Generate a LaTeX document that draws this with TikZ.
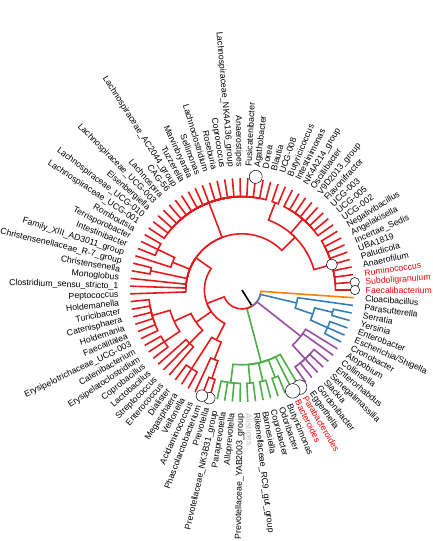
\documentclass[tikz,border=0pt]{standalone}
\usepackage{fontspec}
\setmainfont{Liberation Sans}
\definecolor{cred}{HTML}{E41A1C}
\definecolor{cblue}{HTML}{377EB8}
\definecolor{cgreen}{HTML}{4DAF4A}
\definecolor{cpurple}{HTML}{984EA3}
\definecolor{corange}{HTML}{FF7F00}
\definecolor{lred}{HTML}{FF0000}
\definecolor{lgray}{HTML}{BEBEBE}
\def\angsp{3.956044}
\def\tipr{112}
\newcommand\edg[5]{\draw[#1] ({-(#2)*\angsp}:#3pt) arc[start angle={-(#2)*\angsp}, end angle={-(#4)*\angsp}, radius=#3pt] -- ({-(#4)*\angsp}:#5pt);}
\newcommand\famtips[5]{\foreach \k in {#4,...,#5}{\edg{#1}{#2}{#3}{\k}{\tipr}}}
\newcommand\labr[3]{\node[lbl,#1,anchor=west,rotate={-(#2)*\angsp}] (t#2) at ({-(#2)*\angsp}:123.5pt) {#3};}
\newcommand\labl[3]{\node[lbl,#1,anchor=east,rotate={180-(#2)*\angsp}] (t#2) at ({-(#2)*\angsp}:123.5pt) {#3};}
\newcommand\circat[4]{\node[circ,minimum size=#4pt] (#1) at ({-(#2)*\angsp}:#3pt) {};}
\tikzset{
  br/.style={line width=1.6pt},
  lbl/.style={font=\fontsize{8.7pt}{10pt}\selectfont, inner sep=0pt, text height=6.3pt, text depth=0pt},
  circ/.style={circle, draw=black, fill=white, line width=0.5pt, inner sep=0pt},
}
\begin{document}
\begin{tikzpicture}
\useasboundingbox (-242pt,-251pt) rectangle (191pt,290pt);
\begin{scope}[br]
% root edge
\coordinate (ctr) at (0,0);
\coordinate (root) at ({-14.6456*\angsp}:19pt);
\draw[black] (ctr) -- (root);
% phyla from root
\edg{corange}{14.6456}{19}{1}{112}
\edg{cblue}{14.6456}{19}{3.375}{56.2}
\edg{cpurple}{14.6456}{19}{9.6667}{74.8}
\edg{cgreen}{14.6456}{19}{19}{74.8}
\edg{cred}{14.6456}{19}{40.1865}{37.6}
% blue
\edg{cblue}{3.375}{56.2}{2}{112}
\edg{cblue}{3.375}{56.2}{4.75}{74.8}
\edg{cblue}{4.75}{74.8}{3.5}{93.4}
\edg{cblue}{4.75}{74.8}{6}{93.4}
\famtips{cblue}{3.5}{93.4}{3}{4}
\famtips{cblue}{6}{93.4}{5}{7}
% purple
\edg{cpurple}{9.6667}{74.8}{8}{112}
\edg{cpurple}{9.6667}{74.8}{9}{112}
\edg{cpurple}{9.6667}{74.8}{12}{93.4}
\famtips{cpurple}{12}{93.4}{10}{14}
% green
\edg{cgreen}{19}{74.8}{24.5}{93.4}
\famtips{cgreen}{24.5}{93.4}{23}{26}
\edg{cgreen}{19}{74.8}{21.5}{93.4}
\famtips{cgreen}{21.5}{93.4}{21}{22}
\edg{cgreen}{19}{74.8}{19.5}{93.4}
\famtips{cgreen}{19.5}{93.4}{19}{20}
\edg{cgreen}{19}{74.8}{17.5}{93.4}
\famtips{cgreen}{17.5}{93.4}{17}{18}
\edg{cgreen}{19}{74.8}{16}{112}
\edg{cgreen}{19}{74.8}{15}{112}
% red: Negativicutes
\edg{cred}{40.1865}{37.6}{29.625}{56.2}
\edg{cred}{29.625}{56.2}{28.25}{74.8}
\edg{cred}{28.25}{74.8}{27.5}{93.4}
\famtips{cred}{27.5}{93.4}{27}{28}
\edg{cred}{28.25}{74.8}{29}{112}
\edg{cred}{29.625}{56.2}{31}{93.4}
\famtips{cred}{31}{93.4}{30}{32}
% Bacilli
\edg{cred}{40.1865}{37.6}{36.625}{56.2}
\edg{cred}{36.625}{56.2}{34}{74.8}
\famtips{cred}{34}{74.8}{33}{35}
\edg{cred}{36.625}{56.2}{39.25}{74.8}
\edg{cred}{39.25}{74.8}{37}{93.4}
\famtips{cred}{37}{93.4}{36}{38}
\edg{cred}{39.25}{74.8}{41.5}{93.4}
\famtips{cred}{41.5}{93.4}{39}{44}
% Clostridia
\edg{cred}{40.1865}{37.6}{54.3095}{56.2}
\famtips{cred}{54.3095}{56.2}{45}{47}
\edg{cred}{54.3095}{56.2}{48.5}{93.4}
\famtips{cred}{48.5}{93.4}{48}{49}
\edg{cred}{54.3095}{56.2}{51}{74.8}
\edg{cred}{51}{74.8}{50}{112}
\edg{cred}{51}{74.8}{52}{93.4}
\famtips{cred}{52}{93.4}{51}{53}
\edg{cred}{54.3095}{56.2}{63}{93.4}
\famtips{cred}{63}{93.4}{54}{72}
\edg{cred}{54.3095}{56.2}{79.6667}{74.8}
\edg{cred}{79.6667}{74.8}{73.5}{93.4}
\famtips{cred}{73.5}{93.4}{73}{74}
\edg{cred}{79.6667}{74.8}{78.5}{93.4}
\famtips{cred}{78.5}{93.4}{75}{82}
\edg{cred}{79.6667}{74.8}{87}{93.4}
\famtips{cred}{87}{93.4}{83}{91}
\end{scope}
% circles
\circat{c15}{15}{113}{14.6}
\circat{c16}{16}{113}{14.6}
\circat{c27}{27}{113}{11.6}
\circat{c28}{28}{113}{11.6}
\circat{c70}{70}{114}{13}
\circat{c87}{87}{93.4}{11}
\circat{c90}{90}{113}{9.4}
\circat{c91}{91}{113}{9.4}
% labels
\labr{black}{1}{Cloacibacillus}
\labr{black}{2}{Parasutterella}
\labr{black}{3}{Serratia}
\labr{black}{4}{Yersinia}
\labr{black}{5}{Enterobacter}
\labr{black}{6}{Escherichia/Shigella}
\labr{black}{7}{Cronobacter}
\labr{black}{8}{Atopobium}
\labr{black}{9}{Collinsella}
\labr{black}{10}{Enterorhabdus}
\labr{black}{11}{Senegalimassilia}
\labr{black}{12}{Slackia}
\labr{black}{13}{Gordonibacter}
\labr{black}{14}{Eggerthella}
\labr{lred}{15}{Parabacteroides}
\labr{lred}{16}{Bacteroides}
\labr{black}{17}{Butyricimonas}
\labr{black}{18}{Odoribacter}
\labr{black}{19}{Coprobacter}
\labr{black}{20}{Barnesiella}
\labr{black}{21}{Rikenellaceae\_RC9\_gut\_group}
\labr{lgray}{22}{Alistipes}
\labl{black}{23}{Prevotellaceae\_YAB2003\_group}
\labl{black}{24}{Alloprevotella}
\labl{black}{25}{Paraprevotella}
\labl{black}{26}{Prevotellaceae\_NK3B31\_group}
\labl{black}{27}{Prevotella}
\labl{black}{28}{Phascolarctobacterium}
\labl{black}{29}{Acidaminococcus}
\labl{black}{30}{Veillonella}
\labl{black}{31}{Megasphaera}
\labl{black}{32}{Dialister}
\labl{black}{33}{Enterococcus}
\labl{black}{34}{Streptococcus}
\labl{black}{35}{Lactobacillus}
\labl{black}{36}{Coprobacillus}
\labl{black}{37}{Erysipelatoclostridium}
\labl{black}{38}{Catenibacterium}
\labl{black}{39}{Erysipelotrichaceae\_UCG-003}
\labl{black}{40}{Faecalitalea}
\labl{black}{41}{Holdemania}
\labl{black}{42}{Catenisphaera}
\labl{black}{43}{Turicibacter}
\labl{black}{44}{Holdemanella}
\labl{black}{45}{Peptococcus}
\labl{black}{46}{Clostridium\_sensu\_stricto\_1}
\labl{black}{47}{Monoglobus}
\labl{black}{48}{Christensenella}
\labl{black}{49}{Christensenellaceae\_R-7\_group}
\labl{black}{50}{Family\_XIII\_AD3011\_group}
\labl{black}{51}{Intestinibacter}
\labl{black}{52}{Terrisporobacter}
\labl{black}{53}{Romboutsia}
\labl{black}{54}{Lachnospiraceae\_UCG-001}
\labl{black}{55}{Lachnospiraceae\_UCG-010}
\labl{black}{56}{Eisenbergiella}
\labl{black}{57}{Lachnospiraceae\_UCG-003}
\labl{black}{58}{Lachnospira}
\labl{black}{59}{CAG-56}
\labl{black}{60}{Lachnospiraceae\_AC2044\_group}
\labl{black}{61}{Tuzzerella}
\labl{black}{62}{Marvinbryantia}
\labl{black}{63}{Sellimonas}
\labl{black}{64}{Lachnoclostridium}
\labl{black}{65}{Roseburia}
\labl{black}{66}{Coprococcus}
\labl{black}{67}{Lachnospiraceae\_NK4A136\_group}
\labl{black}{68}{Anaerostipes}
\labr{black}{69}{Fusicatenibacter}
\labr{black}{70}{Agathobacter}
\labr{black}{71}{Dorea}
\labr{black}{72}{Blautia}
\labr{black}{73}{UCG-008}
\labr{black}{74}{Butyricicoccus}
\labr{black}{75}{Intestinimonas}
\labr{black}{76}{NK4A214\_group}
\labr{black}{77}{Oscillibacter}
\labr{black}{78}{V9D2013\_group}
\labr{black}{79}{Flavonifractor}
\labr{black}{80}{UCG-003}
\labr{black}{81}{UCG-005}
\labr{black}{82}{UCG-002}
\labr{black}{83}{Negativibacillus}
\labr{black}{84}{Angelakisella}
\labr{black}{85}{Incertae\_Sedis}
\labr{black}{86}{UBA1819}
\labr{black}{87}{Paludicola}
\labr{black}{88}{Anaerofilum}
\labr{lred}{89}{Ruminococcus}
\labr{lred}{90}{Subdoligranulum}
\labr{lred}{91}{Faecalibacterium}
\end{tikzpicture}
\end{document}
